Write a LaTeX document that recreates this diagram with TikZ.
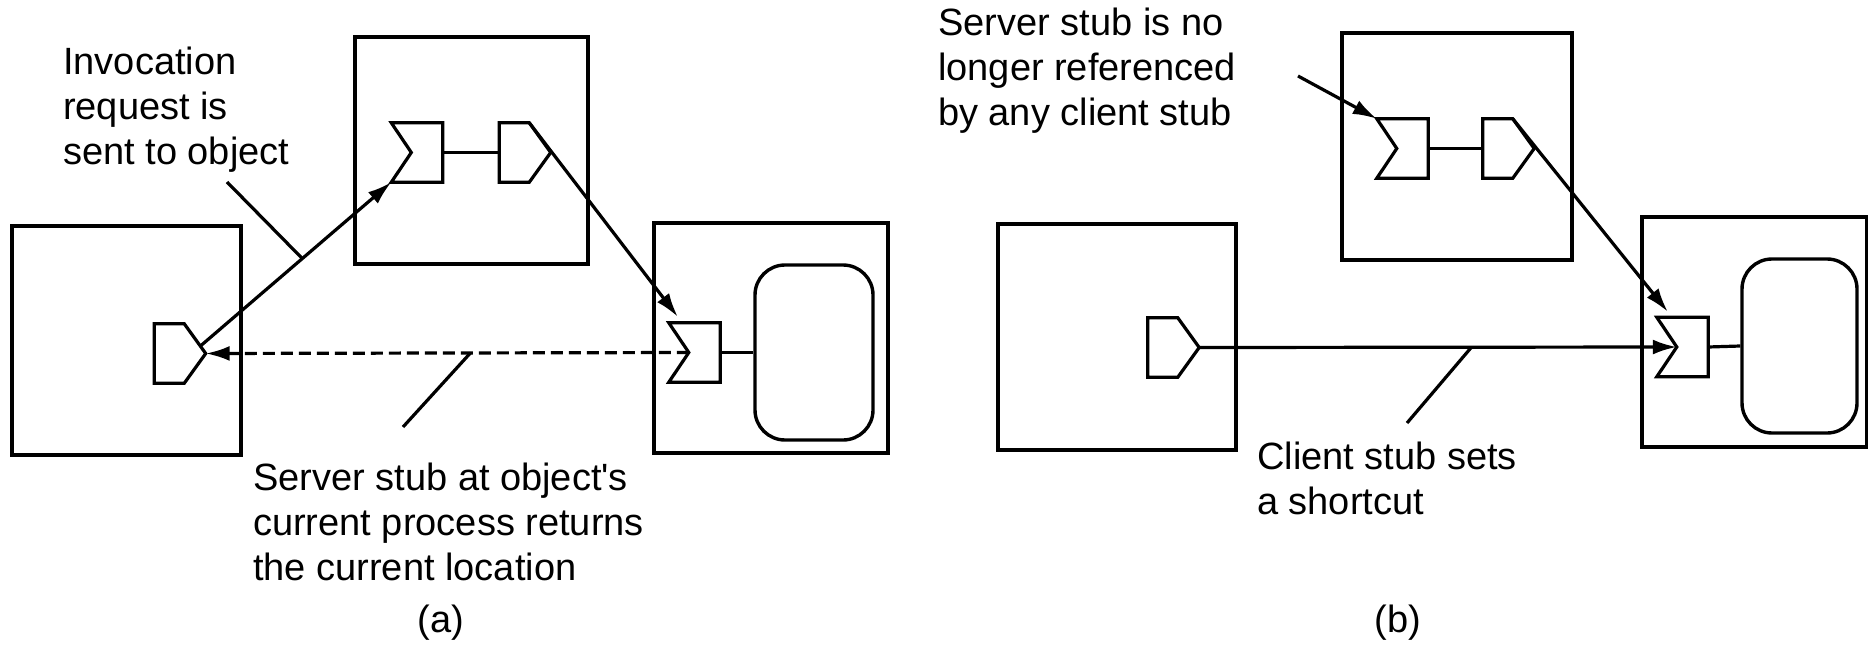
\documentclass[tikz,border=0pt]{standalone}
\usepackage{fontspec}
\newfontfamily\labfont{Liberation Sans}
\usetikzlibrary{arrows.meta,calc}
\tikzset{
  proc/.style={draw, line width=3.4pt, inner sep=0pt},
  objbox/.style={draw, line width=3.4pt, inner sep=0pt, rounded corners=30pt},
  stubarea/.style={draw=none, inner sep=0pt, minimum width=51pt, minimum height=59pt},
  stubline/.style={line width=3.2pt, line join=miter},
  conn/.style={line width=3.2pt},
  tip/.style={-{Latex[length=24pt,width=15pt]}},
  dashconn/.style={line width=3.2pt, dash pattern=on 12pt off 6pt},
  label/.style={font=\labfont\fontsize{38}{45}\selectfont, align=left, inner sep=0pt, anchor=base west},
  caption/.style={font=\labfont\fontsize{38}{45}\selectfont, inner sep=0pt, anchor=base}
}
\newcommand\clientstub[3]{%
  \node[stubarea] (#1) at (#2,#3) {};
  \draw[stubline] (#1.north west) -- ($(#1.north west)+(30,0)$) coordinate (#1-ur)
    -- (#1.east) -- ($(#1.south west)+(30,0)$) coordinate (#1-lr)
    -- (#1.south west) -- cycle;
}
\newcommand\serverstub[3]{%
  \node[stubarea] (#1) at (#2,#3) {};
  \draw[stubline] (#1.north west) -- (#1.north east) -- (#1.south east)
    -- (#1.south west) -- ($(#1.west)+(20,0)$) coordinate (#1-notch) -- cycle;
}
\begin{document}
\begin{tikzpicture}[x=1pt,y=-1pt]
\fill[white] (0,0) rectangle (1868,647);
\useasboundingbox (0,0) rectangle (1868,647);

% ---------------- (a) ----------------
\node[proc, minimum width=229pt, minimum height=229pt] (pa) at (126.5,340.5) {};
\node[proc, minimum width=233pt, minimum height=227pt] (pb) at (471.5,150.5) {};
\node[proc, minimum width=234pt, minimum height=230pt] (pc) at (771,338) {};
\node[objbox, minimum width=118pt, minimum height=175pt] (obja) at (814,352.5) {};

\clientstub{ca}{180}{353.5}
\serverstub{sa}{417}{152.5}
\clientstub{cb}{525}{152.5}
\serverstub{sc}{694.5}{352.5}

\draw[stubline] (sa.east) -- (cb.west);
\draw[stubline] (sc.east) -- (obja.west);

\draw[conn,tip] ($(ca-ur)!0.75!(ca.east)$) -- coordinate[pos=0.534] (m1) (sa.south west);
\draw[conn,tip] (cb-ur) -- ($(sc.north west)+(9,-6)$);
\draw[dashconn,tip] (sc-notch) -- coordinate[pos=0.452] (m2) (ca.east);

\coordinate (la) at (227,182);
\coordinate (lb) at (403,427);
\draw[conn] (la) -- (m1);
\draw[conn] (lb) -- (m2);

\node[label] (ta) at (63,165) {Invocation\\request is\\sent to object};
\node[label] (tb) at (253,580) {Server stub at object's\\current process returns\\the current location};
\node[caption] (capa) at (441,632) {(a)};

% ---------------- (b) ----------------
\node[proc, minimum width=238pt, minimum height=226pt] (qa) at (1117,337) {};
\node[proc, minimum width=230pt, minimum height=227pt] (qb) at (1457,146.5) {};
\node[proc, minimum width=225pt, minimum height=230pt] (qc) at (1754.5,332) {};
\node[objbox, minimum width=115pt, minimum height=174pt] (objb) at (1799.5,346) {};

\clientstub{cq}{1173.5}{347.5}
\serverstub{sq}{1402.5}{148.5}
\clientstub{cr}{1508.5}{148.5}
\serverstub{sr}{1682.5}{347}

\draw[stubline] (sq.east) -- (cr.west);
\draw[stubline] (sr.east) -- (objb.west);

\coordinate (lc) at (1298,76);
\draw[conn,tip] (lc) -- (sq.north west);
\draw[conn,tip] (cr-ur) -- ($(sr.north west)+(11,-5.5)$);
\draw[conn,tip] (cq.east) -- coordinate[pos=0.57] (m3) (sr-notch);

\coordinate (ld) at (1407,423);
\draw[conn] (ld) -- (m3);

\node[label] (tc) at (938,126) {Server stub is no\\longer referenced\\by any client stub};
\node[label] (td) at (1257,514) {Client stub sets\\a shortcut};
\node[caption] (capb) at (1398,632) {(b)};
\end{tikzpicture}
\end{document}
